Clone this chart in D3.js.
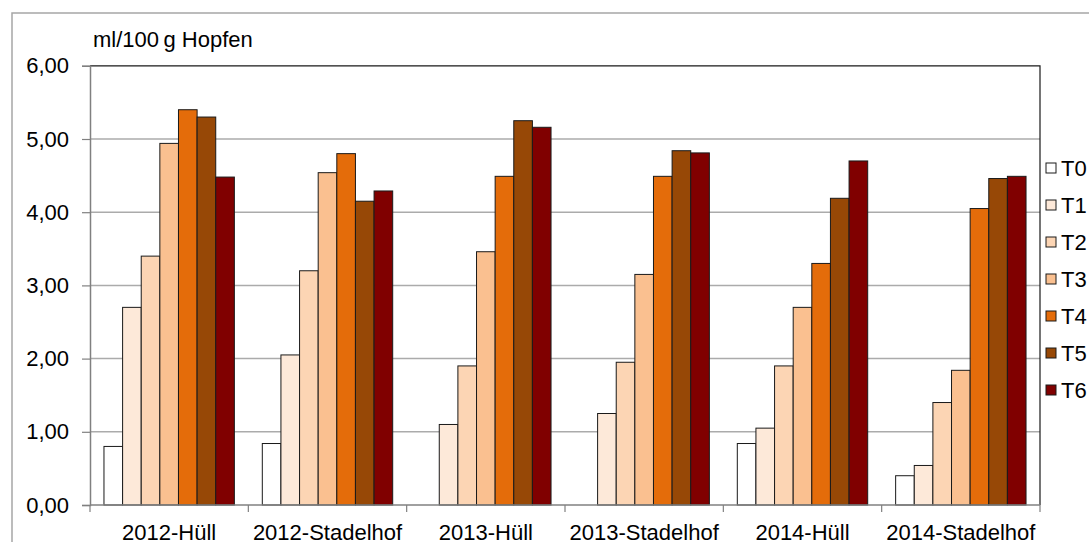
<!DOCTYPE html>
<html>
<head>
<meta charset="utf-8">
<script src="https://cdn.jsdelivr.net/npm/d3@7"></script>
<style>
  html, body { margin: 0; padding: 0; background: #fff; }
  svg { display: block; font-family: "Liberation Sans", Arial, sans-serif; }
</style>
</head>
<body>
<svg id="chart" width="1089" height="542"></svg>
<script>
// Standorte / Jahre
const categories = ["2012-Hüll", "2012-Stadelhof", "2013-Hüll", "2013-Stadelhof", "2014-Hüll", "2014-Stadelhof"];
// Ernte-Termine
const seriesNames = ["T0", "T1", "T2", "T3", "T4", "T5", "T6"];
const seriesColors = ["#ffffff", "#fde9d9", "#fcd5b4", "#fac090", "#e46c0a", "#974806", "#800000"];
// Ölgehalt in ml/100 g Hopfen, je Termin über die Kategorien
const T0 = [0.80, 0.84, 0.00, 0.00, 0.84, 0.40];
const T1 = [2.70, 2.05, 1.10, 1.25, 1.05, 0.54];
const T2 = [3.40, 3.20, 1.90, 1.95, 1.90, 1.40];
const T3 = [4.94, 4.54, 3.46, 3.15, 2.70, 1.84];
const T4 = [5.40, 4.80, 4.49, 4.49, 3.30, 4.05];
const T5 = [5.30, 4.15, 5.25, 4.84, 4.19, 4.46];
const T6 = [4.48, 4.29, 5.16, 4.81, 4.70, 4.49];
const seriesValues = [T0, T1, T2, T3, T4, T5, T6];
const yTicks = [0, 1, 2, 3, 4, 5, 6];
const yTitle = "ml/100\u2009g Hopfen";

const svg = d3.select("#chart");
const plot = { left: 90, top: 65.8, right: 1040, bottom: 505 };
const fmt = v => d3.format(".2f")(v).replace(".", ",");

// outer chart frame
svg.append("path")
  .attr("d", "M12,1000 L12,13 L1200,13")
  .attr("fill", "none").attr("stroke", "#a6a6a6").attr("stroke-width", 1.5);

const x0 = d3.scaleBand().domain(categories).range([plot.left, plot.right]).paddingInner(0).paddingOuter(0);
const x1 = d3.scaleBand().domain(seriesNames).range([0, x0.bandwidth()]).paddingInner(0).paddingOuter(0.75);
const y = d3.scaleLinear().domain([0, 6]).range([plot.bottom, plot.top]);

// gridlines
svg.append("g").selectAll("line").data(yTicks.filter(t => t > 0 && t < 6)).join("line")
  .attr("x1", plot.left).attr("x2", plot.right)
  .attr("y1", d => y(d)).attr("y2", d => y(d))
  .attr("stroke", "#ababab").attr("stroke-width", 1.5);

// plot border top/right
svg.append("path")
  .attr("d", `M${plot.left},${y(6)} L${plot.right},${y(6)} L${plot.right},${plot.bottom}`)
  .attr("fill", "none").attr("stroke", "#1a1a1a").attr("stroke-width", 1.2);

// bars
const groups = svg.append("g").selectAll("g").data(seriesNames).join("g")
  .attr("fill", (d, i) => seriesColors[i]);
groups.selectAll("rect")
  .data((s, si) => categories.map((c, ci) => ({ c, s, v: seriesValues[si][ci] })).filter(d => d.v > 0))
  .join("rect")
  .attr("x", d => x0(d.c) + x1(d.s))
  .attr("width", x1.bandwidth())
  .attr("y", d => y(d.v))
  .attr("height", d => y(0) - y(d.v))
  .attr("stroke", "#1a1a1a").attr("stroke-width", 1);

// y axis
const yAxis = svg.append("g").attr("transform", `translate(${plot.left},0)`)
  .call(d3.axisLeft(y).tickValues(yTicks).tickFormat(fmt).tickSize(8).tickPadding(13));
yAxis.select(".domain").attr("stroke", "#808080").attr("stroke-width", 1.5);
yAxis.selectAll(".tick line").attr("stroke", "#808080").attr("stroke-width", 1.2);
yAxis.selectAll("text").attr("font-size", 22).attr("fill", "#000")
  .attr("font-family", "Liberation Sans, Arial, sans-serif");

// x axis
const tickXs = categories.map(c => x0(c)).concat([plot.right]);
const xAxis = svg.append("g");
xAxis.append("line").attr("x1", plot.left).attr("x2", plot.right)
  .attr("y1", plot.bottom).attr("y2", plot.bottom)
  .attr("stroke", "#808080").attr("stroke-width", 1.5);
xAxis.selectAll("line.tk").data(tickXs).join("line").attr("class", "tk")
  .attr("x1", d => d).attr("x2", d => d)
  .attr("y1", plot.bottom).attr("y2", plot.bottom + 7)
  .attr("stroke", "#808080").attr("stroke-width", 1.2);
xAxis.selectAll("text").data(categories).join("text")
  .attr("x", d => x0(d) + x0.bandwidth() / 2)
  .attr("y", 540)
  .attr("text-anchor", "middle")
  .attr("font-size", 22)
  .text(d => d);

// axis title
svg.append("text").attr("x", 93).attr("y", 47).attr("font-size", 22).text(yTitle);

// legend
const legend = svg.append("g").selectAll("g").data(seriesNames).join("g")
  .attr("transform", (d, i) => `translate(1046,${168 + i * 37})`);
legend.append("rect").attr("x", 0).attr("y", -5).attr("width", 10).attr("height", 10)
  .attr("fill", (d, i) => seriesColors[i]).attr("stroke", "#1a1a1a").attr("stroke-width", 1);
legend.append("text").attr("x", 15).attr("y", 8).attr("font-size", 22).text(d => d);
</script>
</body>
</html>
